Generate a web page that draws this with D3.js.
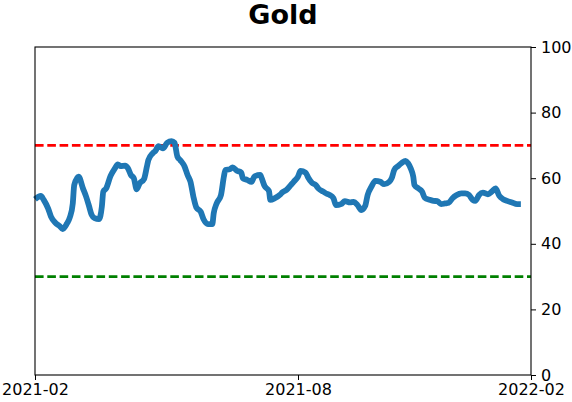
<!DOCTYPE html>
<html>
<head>
<meta charset="utf-8">
<script src="https://cdn.jsdelivr.net/npm/d3@7"></script>
<style>
  body { margin: 0; background: #fff; }
  text { font-family: "DejaVu Sans", sans-serif; }
</style>
</head>
<body>
<svg id="chart" width="572" height="402"></svg>
<script>
// values
var dates = [
    "2021-02-01", "2021-02-05", "2021-02-07", "2021-02-10", "2021-02-12", "2021-02-15", "2021-02-18", "2021-02-20",
    "2021-02-23", "2021-02-25", "2021-02-27", "2021-02-28", "2021-03-03", "2021-03-06", "2021-03-08", "2021-03-10",
    "2021-03-12", "2021-03-14", "2021-03-17", "2021-03-19", "2021-03-20", "2021-03-22", "2021-03-25", "2021-03-28",
    "2021-03-30", "2021-04-01", "2021-04-04", "2021-04-06", "2021-04-08", "2021-04-10", "2021-04-12", "2021-04-14",
    "2021-04-17", "2021-04-19", "2021-04-20", "2021-04-23", "2021-04-25", "2021-04-27", "2021-04-30", "2021-05-03",
    "2021-05-06", "2021-05-08", "2021-05-10", "2021-05-12", "2021-05-15", "2021-05-17", "2021-05-19", "2021-05-21",
    "2021-05-23", "2021-05-26", "2021-05-28", "2021-05-31", "2021-06-03", "2021-06-04", "2021-06-06", "2021-06-09",
    "2021-06-11", "2021-06-12", "2021-06-15", "2021-06-17", "2021-06-20", "2021-06-23", "2021-06-24", "2021-06-27",
    "2021-06-30", "2021-07-02", "2021-07-06", "2021-07-07", "2021-07-09", "2021-07-12", "2021-07-13", "2021-07-16",
    "2021-07-20", "2021-07-21", "2021-07-24", "2021-07-27", "2021-07-29", "2021-08-01", "2021-08-03", "2021-08-07",
    "2021-08-09", "2021-08-12", "2021-08-15", "2021-08-17", "2021-08-21", "2021-08-24", "2021-08-26", "2021-08-29",
    "2021-08-31", "2021-09-04", "2021-09-07", "2021-09-11", "2021-09-14", "2021-09-17", "2021-09-20", "2021-09-23",
    "2021-09-25", "2021-09-28", "2021-10-01", "2021-10-05", "2021-10-08", "2021-10-12", "2021-10-14", "2021-10-16",
    "2021-10-19", "2021-10-22", "2021-10-25", "2021-10-27", "2021-10-29", "2021-10-31", "2021-11-01", "2021-11-04",
    "2021-11-07", "2021-11-09", "2021-11-13", "2021-11-16", "2021-11-19", "2021-11-22", "2021-11-25", "2021-11-28",
    "2021-12-01", "2021-12-04", "2021-12-08", "2021-12-11", "2021-12-14", "2021-12-17", "2021-12-19", "2021-12-22",
    "2021-12-25", "2021-12-29", "2022-01-01", "2022-01-04", "2022-01-07", "2022-01-10", "2022-01-13", "2022-01-17",
    "2022-01-21", "2022-01-24"
];
var values = [
    53.6, 54.6, 53.4, 50.8, 48.3, 46.4, 45.4, 44.5,
    46.2, 48.1, 52.3, 57.9, 60.5, 56.9, 54.6, 51.8,
    48.8, 47.8, 47.5, 51.3, 55.9, 56.9, 60.7, 63.0,
    64.2, 63.7, 63.8, 63.0, 61.0, 60.0, 56.6, 58.4,
    59.7, 63.5, 65.5, 67.6, 68.4, 69.8, 69.1, 70.8,
    71.3, 70.8, 66.6, 65.5, 63.5, 61.0, 58.9, 54.4,
    51.1, 49.8, 47.5, 46.0, 46.0, 49.3, 52.3, 54.9,
    60.5, 62.5, 62.7, 63.3, 62.3, 61.7, 60.0, 59.5,
    58.9, 60.5, 61.0, 60.0, 57.6, 56.1, 53.4, 53.9,
    55.1, 55.6, 56.4, 57.9, 58.9, 60.5, 62.2, 61.7,
    60.2, 58.6, 57.9, 56.9, 55.9, 55.2, 54.9, 53.9,
    51.8, 52.1, 53.0, 52.6, 52.8, 51.8, 50.3, 51.5,
    54.9, 57.4, 59.2, 58.9, 58.2, 58.9, 60.0, 62.5,
    63.7, 64.7, 65.3, 64.5, 63.0, 60.5, 57.9, 56.9,
    55.9, 54.1, 53.4, 53.1, 53.0, 52.1, 52.3, 52.5,
    53.9, 54.8, 55.4, 55.4, 54.9, 53.4, 53.1, 54.9,
    55.6, 55.1, 55.9, 56.9, 54.6, 53.6, 53.1, 52.6,
    52.1, 52.1
];
var xTicks = ["2021-02-01", "2021-08-01", "2022-02-01"];
var yTicks = [0, 20, 40, 60, 80, 100];
var upperLevel = 70;
var lowerLevel = 30;
var title = "Gold";

var parse = d3.timeParse("%Y-%m-%d");
var data = dates.map(function(d, i) { return { date: parse(d), value: values[i] }; });

var width = 572, height = 402;
var margin = { top: 47, right: 41, bottom: 27, left: 35 };
var svg = d3.select("#chart");

// the reference spaces its date ticks unevenly, so map them piecewise
var x = d3.scaleTime()
    .domain(xTicks.map(parse))
    .range([margin.left, 298, width - margin.right]);
var y = d3.scaleLinear()
    .domain([0, 100])
    .range([height - margin.bottom, margin.top]);

svg.append("text")
    .attr("x", (margin.left + width - margin.right) / 2)
    .attr("y", 24)
    .attr("text-anchor", "middle")
    .attr("font-size", "27px")
    .attr("font-weight", "bold")
    .text(title);

// dashed reference levels
svg.append("line")
    .attr("x1", margin.left).attr("x2", width - margin.right)
    .attr("y1", y(upperLevel)).attr("y2", y(upperLevel))
    .attr("stroke", "#ff0000")
    .attr("stroke-width", 2.6)
    .attr("stroke-dasharray", "8.6,3.7");
svg.append("line")
    .attr("x1", margin.left).attr("x2", width - margin.right)
    .attr("y1", y(lowerLevel)).attr("y2", y(lowerLevel))
    .attr("stroke", "#008000")
    .attr("stroke-width", 2.6)
    .attr("stroke-dasharray", "8.6,3.7");

var line = d3.line()
    .x(function(d) { return x(d.date); })
    .y(function(d) { return y(d.value); })
    .curve(d3.curveMonotoneX);

svg.append("path")
    .datum(data)
    .attr("fill", "none")
    .attr("stroke", "#1f77b4")
    .attr("stroke-width", 5.8)
    .attr("stroke-linejoin", "round")
    .attr("d", line);

// frame
svg.append("rect")
    .attr("x", margin.left)
    .attr("y", margin.top)
    .attr("width", width - margin.left - margin.right)
    .attr("height", height - margin.top - margin.bottom)
    .attr("fill", "none")
    .attr("stroke", "#000")
    .attr("stroke-width", 1.1);

var xAxis = d3.axisBottom(x)
    .tickValues(xTicks.map(parse))
    .tickFormat(d3.timeFormat("%Y-%m"))
    .tickSizeInner(5)
    .tickSizeOuter(0)
    .tickPadding(4);
var gx = svg.append("g")
    .attr("transform", "translate(0," + (height - margin.bottom) + ")")
    .call(xAxis);
gx.select(".domain").remove();
gx.selectAll("text").attr("font-size", "16px").attr("fill", "#000");
gx.selectAll("line").attr("stroke", "#000");

var yAxis = d3.axisRight(y)
    .tickValues(yTicks)
    .tickSizeInner(5)
    .tickSizeOuter(0)
    .tickPadding(5);
var gy = svg.append("g")
    .attr("transform", "translate(" + (width - margin.right) + ",0)")
    .call(yAxis);
gy.select(".domain").remove();
gy.selectAll("text").attr("font-size", "16px").attr("fill", "#000");
gy.selectAll("line").attr("stroke", "#000");
</script>
</body>
</html>
